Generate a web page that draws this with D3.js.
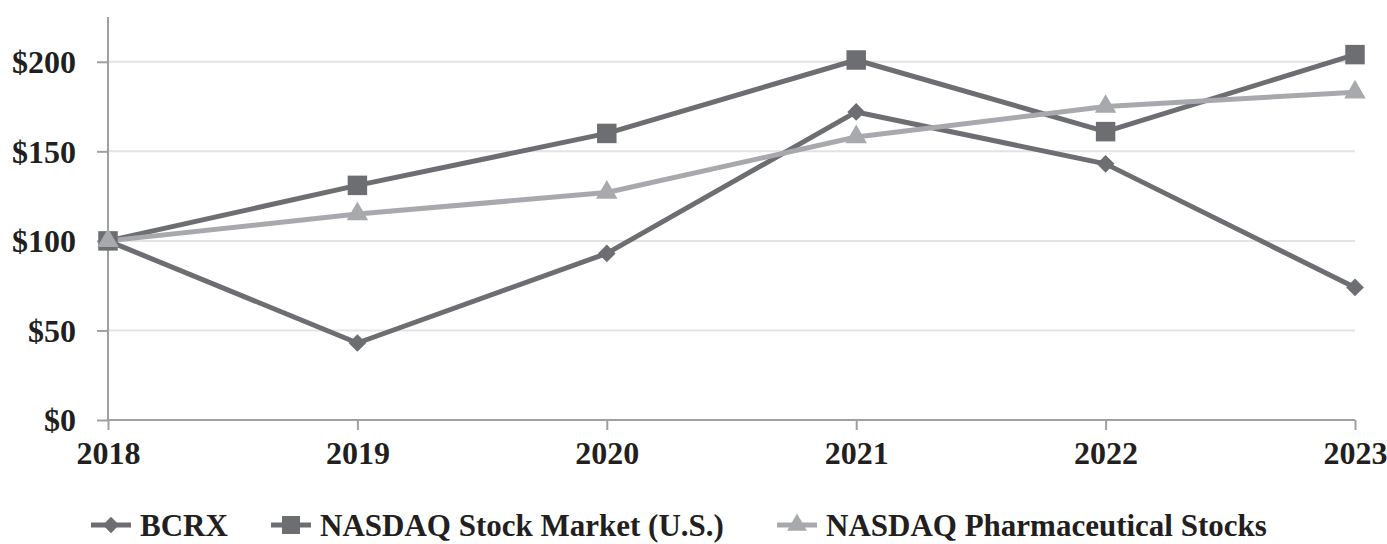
<!DOCTYPE html>
<html>
<head>
<meta charset="utf-8">
<script src="https://cdn.jsdelivr.net/npm/d3@7"></script>
<style>
  body { margin: 0; background: #fff; }
  text { font-family: "Liberation Serif", "Times New Roman", serif; font-weight: bold; fill: #231f20; }
</style>
</head>
<body>
<div id="chart"></div>
<script>
// chart data
const years = ["2018", "2019", "2020", "2021", "2022", "2023"];
const bcrx = [100, 43, 93, 172, 143, 74];
const nasdaqMarket = [100, 131, 160, 201, 161, 204];
const nasdaqPharma = [100, 115, 127, 158, 175, 183];
const yTicks = [0, 50, 100, 150, 200];

const series = [
  { name: "BCRX", values: bcrx, color: "#6d6e71", symbol: d3.symbolDiamond2, size: 200 },
  { name: "NASDAQ Stock Market (U.S.)", values: nasdaqMarket, color: "#6d6e71", symbol: d3.symbolSquare, size: 380 },
  { name: "NASDAQ Pharmaceutical Stocks", values: nasdaqPharma, color: "#a7a9ac", symbol: d3.symbolTriangle, size: 200 }
];

const W = 1387, H = 544;
const margin = { top: 17, right: 32, bottom: 124, left: 108 };
const width = W - margin.left - margin.right;
const height = H - margin.top - margin.bottom;

const svg = d3.select("#chart").append("svg")
  .attr("width", W)
  .attr("height", H);

const g = svg.append("g")
  .attr("transform", `translate(${margin.left},${margin.top})`);

const x = d3.scalePoint().domain(years).range([0, width]);
const y = d3.scaleLinear().domain([0, 225]).range([height, 0]);

// gridlines
g.selectAll(".grid")
  .data(yTicks.filter(d => d > 0))
  .enter().append("line")
  .attr("x1", 0).attr("x2", width)
  .attr("y1", d => y(d)).attr("y2", d => y(d))
  .style("stroke", "#e3e3e4")
  .style("stroke-width", "2px");

// y axis
const yAxis = g.append("g")
  .call(d3.axisLeft(y).tickValues(yTicks).tickSize(11).tickPadding(21).tickFormat(d => "$" + d));
yAxis.select(".domain").attr("d", `M0,${height}V0`);
yAxis.selectAll("text").style("font-size", "32px").attr("dy", "0.34em");

// x axis
const xAxis = g.append("g")
  .attr("transform", `translate(0,${height})`)
  .call(d3.axisBottom(x).tickSize(10).tickPadding(11));
xAxis.selectAll("text").style("font-size", "32px").attr("dy", "0.71em");

g.selectAll(".domain, .tick line")
  .style("stroke", "#a0a0a3")
  .style("stroke-width", "2px");
xAxis.select(".domain").attr("d", `M0,0H${width}`);

// lines
const line = d3.line()
  .x((d, i) => x(years[i]))
  .y(d => y(d));

series.forEach(s => {
  g.append("path")
    .datum(s.values)
    .attr("d", line)
    .style("fill", "none")
    .style("stroke", s.color)
    .style("stroke-width", "5px")
    .style("stroke-linejoin", "round");
});

series.forEach(s => {
  g.selectAll(null)
    .data(s.values)
    .enter().append("path")
    .attr("transform", (d, i) => `translate(${x(years[i])},${y(d)})`)
    .attr("d", d3.symbol().type(s.symbol).size(s.size))
    .style("fill", s.color);
});

// legend
const legendX = [91, 271, 777];
const legend = svg.append("g").attr("transform", `translate(0,525)`);
series.forEach((s, i) => {
  const item = legend.append("g").attr("transform", `translate(${legendX[i]},0)`);
  item.append("line")
    .attr("x1", 0).attr("x2", 40)
    .attr("y1", 0).attr("y2", 0)
    .style("stroke", s.color)
    .style("stroke-width", "5px");
  item.append("path")
    .attr("transform", "translate(20,0)")
    .attr("d", d3.symbol().type(s.symbol).size(s.size * 0.85))
    .style("fill", s.color);
  item.append("text")
    .attr("x", 49)
    .attr("y", 0)
    .attr("dy", "0.35em")
    .style("font-size", "31px")
    .text(s.name);
});
</script>
</body>
</html>
